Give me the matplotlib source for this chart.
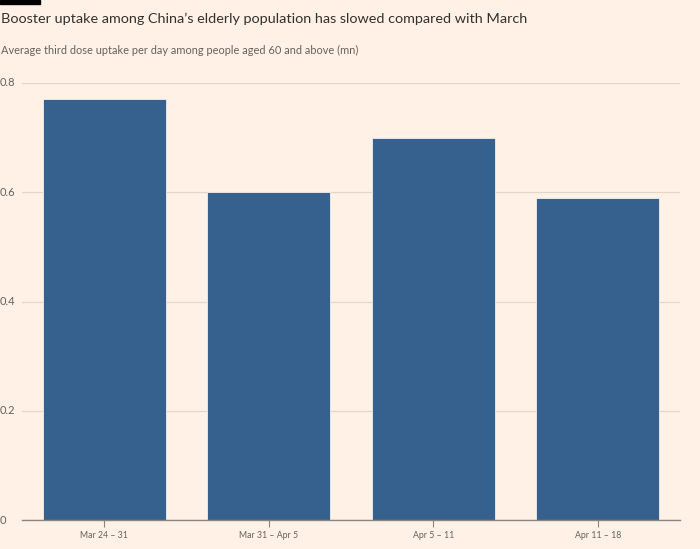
import matplotlib
matplotlib.use("Agg")
import matplotlib.pyplot as plt
from matplotlib.patches import Rectangle

categories = ["Mar 24 – 31", "Mar 31 – Apr 5", "Apr 5 – 11", "Apr 11 – 18"]
values = [0.77, 0.60, 0.70, 0.59]
yticks = [0, 0.2, 0.4, 0.6, 0.8]
ytick_labels = ["0", "0.2", "0.4", "0.6", "0.8"]

BG = "#fff1e5"
BAR = "#36618f"
plt.rcParams["font.family"] = ["Lato", "DejaVu Sans"]

W, H = 700, 549
fig = plt.figure(figsize=(7, 5.49), dpi=100, facecolor=BG)
ax = fig.add_axes([22 / W, 1 - 520.3 / H, (680 - 22) / W, (520.3 - 82.9) / H])
ax.set_facecolor(BG)

x = range(len(categories))
ax.bar(x, values, width=0.75, color=BAR, edgecolor="#f3efea", linewidth=0.6, zorder=3)
ax.set_xlim(-0.5, len(categories) - 0.5)
ax.set_ylim(0, 0.8)

for s in ["top", "right", "left"]:
    ax.spines[s].set_visible(False)
ax.spines["bottom"].set_color("#8a8580")
ax.spines["bottom"].set_linewidth(1)
ax.spines["bottom"].set_zorder(4)

ax.set_yticks(yticks)
ax.set_yticklabels([])
ax.tick_params(axis="y", length=0)
ax.grid(axis="y", color="#e3d5c8", linewidth=0.9, zorder=0)
for yv, lab in zip(yticks, ytick_labels):
    ax.text(-22 / (680 - 22), yv, lab, transform=ax.get_yaxis_transform(),
            ha="left", va="center", fontsize=8, color="#66605c")

ax.set_xticks(list(x))
ax.set_xticklabels(categories, fontsize=6.3, color="#66605c")
ax.tick_params(axis="x", length=5, width=0.8, color="#8a8580", pad=3)

fig.patches.append(Rectangle((0, 1 - 4 / H), 40 / W, 4 / H, transform=fig.transFigure,
                             color="black", zorder=5))
fig.text(1 / W, 1 - 19 / H, "Booster uptake among China’s elderly population has slowed compared with March",
         fontsize=10.4, color="#33302e", ha="left", va="center")
fig.text(1 / W, 1 - 50 / H, "Average third dose uptake per day among people aged 60 and above (mn)",
         fontsize=7.9, color="#66605c", ha="left", va="center")

fig.savefig("out.png", dpi=100, facecolor=BG)
